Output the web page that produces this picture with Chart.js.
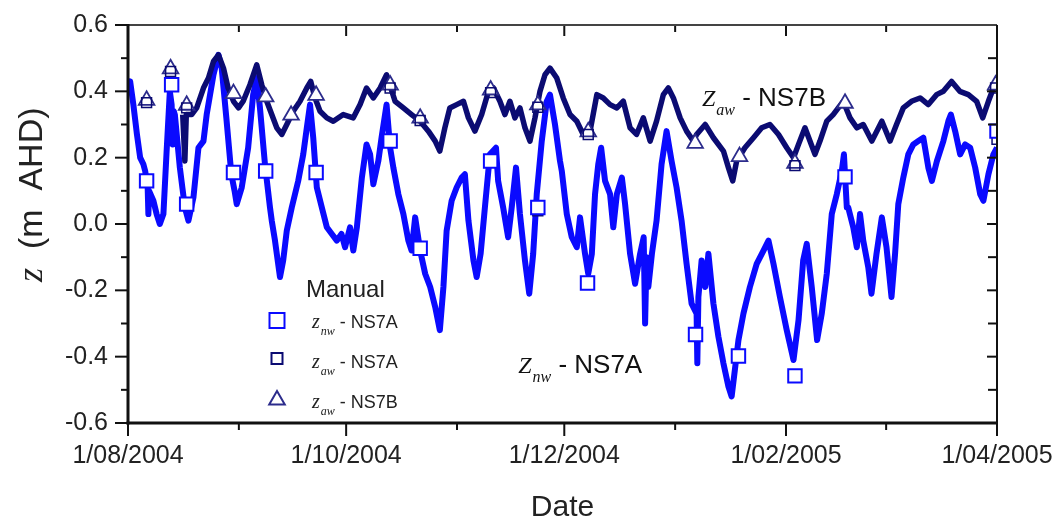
<!DOCTYPE html>
<html>
<head>
<meta charset="utf-8">
<script src="https://cdn.jsdelivr.net/npm/chart.js@4.4.1/dist/chart.umd.min.js"></script>
<style>
  html, body { margin: 0; padding: 0; background: #fff; }
</style>
</head>
<body>
<canvas id="levels" width="1060" height="519"></canvas>
<script>
// x values are days since 1 Aug 2004
const tickDays = [0, 61, 122, 184, 243];
const tickLabels = ['1/08/2004', '1/10/2004', '1/12/2004', '1/02/2005', '1/04/2005'];
const minorDays = [31, 92, 153, 212];
const yTicks = [-0.6, -0.4, -0.2, 0.0, 0.2, 0.4, 0.6];
const yMinor = [-0.5, -0.3, -0.1, 0.1, 0.3, 0.5];

// logger record, NS7A (z_nw)
const nwDay = [0, 0.6, 1.5, 2.5, 3.4, 4.3, 4.8, 5.5, 5.7, 5.9, 7.1, 8.0, 8.9, 9.9, 10.8, 11.7, 12.2, 12.5, 12.8, 13.1,
  14.5, 15.9, 16.9, 18.3, 19.7, 21.1, 22.0, 23.9, 25.3, 26.2, 27.5, 28.9, 29.8, 30.4, 31.8, 33.6, 35.0, 36.0, 36.9, 38.3,
  39.7, 40.2, 41.1, 42.5, 43.4, 44.4, 45.8, 47.6, 49.0, 50.0, 50.9, 51.8, 52.8, 54.2, 55.6, 57.0, 58.4, 59.7, 60.7, 62.1,
  63.0, 64.0, 65.4, 66.7, 67.7, 68.6, 70.0, 70.9, 72.3, 73.3, 74.2, 75.6, 77.0, 78.4, 79.3, 80.3, 81.7, 83.1, 84.5, 85.9,
  87.2, 88.2, 89.1, 90.5, 91.9, 93.3, 94.2, 95.2, 96.6, 97.5, 98.6, 99.8, 101.2, 102.9, 103.5, 104.9, 106.3, 107.3, 108.5, 109.6,
  111.0, 112.2, 113.3, 114.3, 115.7, 117.1, 118.0, 119.4, 120.8, 121.3, 122.7, 124.1, 125.5, 126.4, 127.8, 128.7, 129.7, 130.6, 131.5, 132.3,
  133.4, 134.8, 135.7, 136.7, 138.1, 139.0, 140.4, 141.8, 143.2, 144.2, 144.6, 145.0, 145.5, 146.5, 147.8, 149.2, 150.6, 152.0, 153.4, 154.8,
  156.2, 157.6, 159.0, 159.2, 159.5, 160.4, 161.4, 162.3, 163.7, 165.1, 166.5, 167.9, 168.8, 169.7, 170.7, 172.1, 173.9, 175.8, 177.7, 179.1,
  180.5, 182.3, 184.2, 186.1, 187.5, 188.8, 189.8, 191.2, 192.7, 194.0, 195.4, 196.8, 198.2, 199.6, 200.2, 201.0, 201.4, 202.8, 203.8, 204.7,
  205.6, 207.0, 207.9, 209.3, 210.8, 212.1, 213.5, 214.5, 215.4, 216.8, 218.2, 219.6, 221.0, 222.4, 223.8, 224.8, 226.2, 228.0, 229.4, 230.1,
  231.3, 232.7, 234.1, 235.5, 236.9, 238.3, 239.2, 240.6, 242.0, 243.0];
const nwLevel = [0.40, 0.43, 0.36, 0.27, 0.20, 0.18, 0.16, 0.11, 0.03, 0.10, 0.07, 0.03, 0.00, 0.03, 0.22, 0.40, 0.36, 0.24, 0.34, 0.33,
  0.17, 0.05, 0.01, 0.08, 0.23, 0.25, 0.33, 0.45, 0.51, 0.47, 0.32, 0.15, 0.10, 0.06, 0.11, 0.23, 0.39, 0.44, 0.35, 0.18,
  0.05, 0.01, -0.05, -0.16, -0.11, -0.02, 0.05, 0.13, 0.21, 0.29, 0.36, 0.26, 0.11, 0.05, -0.01, -0.03, -0.05, -0.03, -0.07, -0.01,
  -0.08, -0.01, 0.14, 0.24, 0.21, 0.12, 0.19, 0.26, 0.36, 0.23, 0.17, 0.09, 0.03, -0.05, -0.08, 0.02, -0.08, -0.15, -0.19, -0.25,
  -0.32, -0.19, -0.02, 0.07, 0.11, 0.14, 0.15, 0.01, -0.11, -0.16, -0.09, 0.05, 0.21, 0.23, 0.13, 0.05, -0.04, 0.05, 0.17, 0.03,
  -0.11, -0.21, -0.09, 0.09, 0.25, 0.37, 0.39, 0.30, 0.19, 0.16, 0.03, -0.04, -0.07, 0.02, -0.09, -0.15, -0.09, 0.09, 0.18, 0.23,
  0.13, 0.09, -0.01, 0.09, 0.14, 0.06, -0.09, -0.18, -0.09, -0.04, -0.30, -0.10, -0.19, -0.09, 0.01, 0.18, 0.28, 0.19, 0.11, 0.01,
  -0.12, -0.24, -0.27, -0.42, -0.22, -0.11, -0.19, -0.09, -0.24, -0.34, -0.42, -0.49, -0.52, -0.44, -0.35, -0.27, -0.19, -0.12, -0.08, -0.05,
  -0.12, -0.22, -0.32, -0.41, -0.29, -0.11, -0.06, -0.19, -0.35, -0.27, -0.15, 0.03, 0.09, 0.16, 0.21, 0.05, 0.05, -0.01, -0.07, 0.03,
  -0.05, -0.13, -0.21, -0.09, 0.02, -0.07, -0.22, -0.09, 0.06, 0.14, 0.21, 0.24, 0.25, 0.26, 0.17, 0.13, 0.19, 0.25, 0.31, 0.33,
  0.28, 0.21, 0.24, 0.23, 0.17, 0.09, 0.07, 0.15, 0.21, 0.23];

// logger record, NS7B (z_aw)
const awDay = [15.3, 15.9, 16.3, 17.8, 19.2, 21.1, 22.5, 23.9, 25.3, 26.7, 28.0, 29.5, 30.9, 32.2, 34.1, 36.0, 37.4, 38.8, 40.2, 41.6,
  43.0, 44.4, 46.2, 48.1, 50.0, 51.1, 52.3, 53.7, 55.6, 57.4, 60.2, 63.0, 64.9, 66.7, 68.6, 70.5, 72.3, 74.7, 77.0, 79.3,
  81.7, 84.0, 85.9, 87.2, 88.6, 90.0, 91.9, 93.8, 95.2, 97.0, 98.9, 100.8, 102.2, 104.0, 105.4, 106.8, 108.2, 109.6, 111.0, 112.4,
  113.8, 115.2, 116.6, 118.0, 119.9, 121.7, 123.6, 125.5, 127.3, 129.2, 131.1, 132.9, 134.8, 136.7, 138.5, 140.4, 142.2, 144.1, 146.0, 147.8,
  149.7, 151.1, 152.5, 154.4, 156.2, 158.1, 159.0, 161.4, 163.7, 166.5, 167.9, 169.1, 170.2, 172.5, 174.9, 177.2, 179.5, 181.9, 184.2, 186.1,
  187.5, 189.3, 190.7, 192.1, 193.5, 195.4, 197.2, 200.0, 201.9, 203.8, 205.6, 208.0, 210.8, 213.1, 214.9, 216.8, 219.1, 221.5, 223.8, 226.1,
  228.0, 230.3, 232.6, 235.0, 237.3, 239.0, 240.6, 242.0, 243.0];
const awLevel = [0.33, 0.19, 0.33, 0.33, 0.35, 0.41, 0.44, 0.49, 0.51, 0.47, 0.41, 0.37, 0.35, 0.37, 0.42, 0.48, 0.42, 0.37, 0.33, 0.29,
  0.27, 0.30, 0.34, 0.37, 0.41, 0.43, 0.38, 0.34, 0.32, 0.31, 0.33, 0.32, 0.36, 0.41, 0.38, 0.41, 0.45, 0.37, 0.35, 0.33,
  0.31, 0.28, 0.25, 0.22, 0.29, 0.35, 0.36, 0.37, 0.32, 0.28, 0.33, 0.40, 0.41, 0.37, 0.33, 0.37, 0.32, 0.35, 0.29, 0.25,
  0.32, 0.40, 0.45, 0.47, 0.44, 0.38, 0.33, 0.31, 0.27, 0.28, 0.39, 0.38, 0.36, 0.35, 0.37, 0.29, 0.27, 0.32, 0.25, 0.31,
  0.39, 0.41, 0.38, 0.32, 0.28, 0.25, 0.27, 0.30, 0.26, 0.22, 0.17, 0.13, 0.19, 0.23, 0.26, 0.29, 0.30, 0.27, 0.23, 0.20,
  0.24, 0.29, 0.25, 0.21, 0.25, 0.31, 0.33, 0.37, 0.32, 0.29, 0.30, 0.25, 0.31, 0.25, 0.30, 0.35, 0.37, 0.38, 0.36, 0.39,
  0.40, 0.43, 0.40, 0.39, 0.37, 0.32, 0.37, 0.41, 0.42];

// manual dip readings
const manNwDay = [5.2, 12.2, 16.4, 29.5, 38.5, 52.6, 73.3, 81.7, 101.4, 114.6, 128.5, 158.7, 170.7, 186.5, 200.5, 243.0];
const manNwLevel = [0.13, 0.42, 0.06, 0.155, 0.16, 0.155, 0.25, -0.073, 0.19, 0.05, -0.178, -0.333, -0.398, -0.458, 0.142, 0.28];
const manAwADay = [5.2, 11.9, 16.4, 73.3, 81.7, 101.4, 114.6, 114.6, 128.7, 186.5, 242.6, 243.0];
const manAwALevel = [0.366, 0.46, 0.35, 0.41, 0.312, 0.396, 0.352, 0.04, 0.27, 0.176, 0.41, 0.255];
const manAwBDay = [5.2, 11.9, 16.4, 29.5, 38.5, 45.6, 52.6, 73.3, 81.7, 101.4, 114.6, 128.7, 158.6, 171.0, 186.5, 200.5, 242.6];
const manAwBLevel = [0.373, 0.468, 0.358, 0.393, 0.383, 0.328, 0.388, 0.419, 0.319, 0.404, 0.359, 0.278, 0.243, 0.203, 0.183, 0.364, 0.419];

const BLUE = '#0a0aff';
const NAVY = '#0b0b72';
const TRI = '#2c2c8c';
const SANS = '"Liberation Sans", Arial, sans-serif';
const SERIF = '"Liberation Serif", "Times New Roman", serif';

const pts = (xs, ys) => xs.map((d, i) => ({ x: d, y: ys[i] }));

function line(ctx, x1, y1, x2, y2) {
  ctx.beginPath();
  ctx.moveTo(x1, y1);
  ctx.lineTo(x2, y2);
  ctx.stroke();
}

// italic symbol + italic subscript + plain text, left aligned on a baseline
function symbolText(ctx, x, y, sym, sub, rest, symSize, subSize, restSize) {
  ctx.textAlign = 'left';
  ctx.textBaseline = 'alphabetic';
  ctx.font = 'italic ' + symSize + 'px ' + SERIF;
  ctx.fillText(sym, x, y);
  x += ctx.measureText(sym).width + 1;
  ctx.font = 'italic ' + subSize + 'px ' + SERIF;
  ctx.fillText(sub, x, y + subSize * 0.55);
  x += ctx.measureText(sub).width;
  ctx.font = restSize + 'px ' + SANS;
  ctx.fillText(rest, x, y);
}

function triangle(ctx, cx, cy, r) {
  ctx.beginPath();
  ctx.moveTo(cx, cy - r);
  ctx.lineTo(cx + r * 0.866, cy + r * 0.5);
  ctx.lineTo(cx - r * 0.866, cy + r * 0.5);
  ctx.closePath();
  ctx.stroke();
}

// keep the plot box fixed: drop the label overhang padding
function noOverhang(s) {
  s.paddingLeft = 0;
  s.paddingRight = 0;
  s.paddingTop = 0;
  s.paddingBottom = 0;
}

// axis box, inner/outer tick marks, titles, key and series labels
const decorations = {
  id: 'decorations',
  afterDatasetsDraw(chart) {
    const { ctx, chartArea: a, scales: { x, y } } = chart;
    ctx.save();
    ctx.strokeStyle = '#111';
    ctx.lineWidth = 2;
    for (const v of yTicks) {
      const py = y.getPixelForValue(v);
      line(ctx, a.left - 13, py, a.left, py);
      line(ctx, a.right - 10, py, a.right, py);
    }
    for (const v of yMinor) {
      const py = y.getPixelForValue(v);
      line(ctx, a.left - 7, py, a.left, py);
      line(ctx, a.right - 9, py, a.right, py);
    }
    for (const d of tickDays) {
      const px = x.getPixelForValue(d);
      line(ctx, px, a.bottom, px, a.bottom + 13);
      line(ctx, px, a.top, px, a.top + 11);
    }
    for (const d of minorDays) {
      const px = x.getPixelForValue(d);
      line(ctx, px, a.bottom, px, a.bottom + 7);
      line(ctx, px, a.top, px, a.top + 7);
    }
    ctx.strokeStyle = '#444';
    ctx.lineWidth = 2;
    line(ctx, a.left, a.top, a.right, a.top);
    ctx.strokeStyle = '#111';
    line(ctx, a.right, a.top, a.right, a.bottom + 1);
    ctx.lineWidth = 3;
    line(ctx, a.left, a.top - 1, a.left, a.bottom + 1.5);
    line(ctx, a.left - 1.5, a.bottom, a.right + 1, a.bottom);

    // axis titles
    ctx.fillStyle = '#222';
    ctx.font = '30px ' + SANS;
    ctx.textAlign = 'center';
    ctx.textBaseline = 'alphabetic';
    ctx.fillText('Date', (a.left + a.right) / 2, 516);

    ctx.save();
    ctx.translate(42, 282);
    ctx.rotate(-Math.PI / 2);
    ctx.textAlign = 'left';
    ctx.font = 'italic 36px ' + SERIF;
    ctx.fillText('z', 0, 0);
    const zw = ctx.measureText('z').width;
    ctx.font = '34px ' + SANS;
    ctx.fillText('  (m  AHD)', zw, 0);
    ctx.restore();

    // key for the manual readings
    const kx = 277;
    ctx.fillStyle = '#222';
    ctx.font = '24px ' + SANS;
    ctx.textAlign = 'left';
    ctx.fillText('Manual', 306, 297);
    ctx.lineWidth = 2;
    ctx.strokeStyle = BLUE;
    ctx.strokeRect(kx - 7.5, 313, 15, 15);
    ctx.strokeStyle = NAVY;
    ctx.strokeRect(kx - 5.5, 353, 11, 11);
    ctx.strokeStyle = TRI;
    triangle(ctx, kx, 400, 9);
    symbolText(ctx, 312, 328, 'z', 'nw', ' - NS7A', 20, 12, 18);
    symbolText(ctx, 312, 368, 'z', 'aw', ' - NS7A', 20, 12, 18);
    symbolText(ctx, 312, 408, 'z', 'aw', ' - NS7B', 20, 12, 18);

    // series labels placed in data space
    ctx.fillStyle = '#111';
    symbolText(ctx, x.getPixelForValue(160.5), y.getPixelForValue(0.356), 'Z', 'aw', ' - NS7B', 24, 16, 26);
    symbolText(ctx, x.getPixelForValue(109.1), y.getPixelForValue(-0.449), 'Z', 'nw', ' - NS7A', 24, 16, 26);
    ctx.restore();
  }
};

new Chart(document.getElementById('levels'), {
  type: 'line',
  data: {
    datasets: [
      {
        label: 'z_nw - NS7A (manual)',
        data: pts(manNwDay, manNwLevel),
        showLine: false,
        pointStyle: 'rect',
        pointRadius: 9.5,
        pointBorderWidth: 2,
        pointBorderColor: BLUE,
        pointBackgroundColor: '#fff',
        clip: 0
      },
      {
        label: 'z_aw - NS7A (manual)',
        data: pts(manAwADay, manAwALevel),
        showLine: false,
        pointStyle: 'rect',
        pointRadius: 7,
        pointBorderWidth: 1.5,
        pointBorderColor: NAVY,
        pointBackgroundColor: 'rgba(0,0,0,0)',
        clip: 0
      },
      {
        label: 'z_aw - NS7B (manual)',
        data: pts(manAwBDay, manAwBLevel),
        showLine: false,
        pointStyle: 'triangle',
        pointRadius: 9,
        pointBorderWidth: 1.8,
        pointBorderColor: TRI,
        pointBackgroundColor: '#fff',
        clip: 0
      },
      {
        label: 'z_aw - NS7B',
        data: pts(awDay, awLevel),
        borderColor: NAVY,
        borderWidth: 5.5,
        borderJoinStyle: 'round',
        pointRadius: 0,
        tension: 0
      },
      {
        label: 'z_nw - NS7A',
        data: pts(nwDay, nwLevel),
        borderColor: BLUE,
        borderWidth: 6,
        borderJoinStyle: 'round',
        pointRadius: 0,
        tension: 0
      }
    ]
  },
  options: {
    responsive: false,
    animation: false,
    events: [],
    layout: { padding: { left: 0, right: 63, top: 25, bottom: 0 } },
    plugins: { legend: { display: false }, tooltip: { enabled: false } },
    scales: {
      x: {
        type: 'linear',
        min: 0,
        max: 243,
        afterBuildTicks: s => { s.ticks = tickDays.map(v => ({ value: v })); },
        afterFit: s => { s.height = 96; noOverhang(s); },
        grid: { display: false, drawTicks: false },
        border: { display: false },
        ticks: {
          autoSkip: false,
          maxRotation: 0,
          padding: 18,
          color: '#222',
          font: { family: SANS, size: 25 },
          callback: v => tickLabels[tickDays.indexOf(v)]
        }
      },
      y: {
        type: 'linear',
        min: -0.6,
        max: 0.6,
        afterBuildTicks: s => { s.ticks = yTicks.map(v => ({ value: v })); },
        afterFit: s => { s.width = 128; noOverhang(s); },
        grid: { display: false, drawTicks: false },
        border: { display: false },
        ticks: {
          padding: 20,
          color: '#222',
          font: { family: SANS, size: 25 },
          callback: v => v.toFixed(1)
        }
      }
    }
  },
  plugins: [decorations]
});
</script>
</body>
</html>
